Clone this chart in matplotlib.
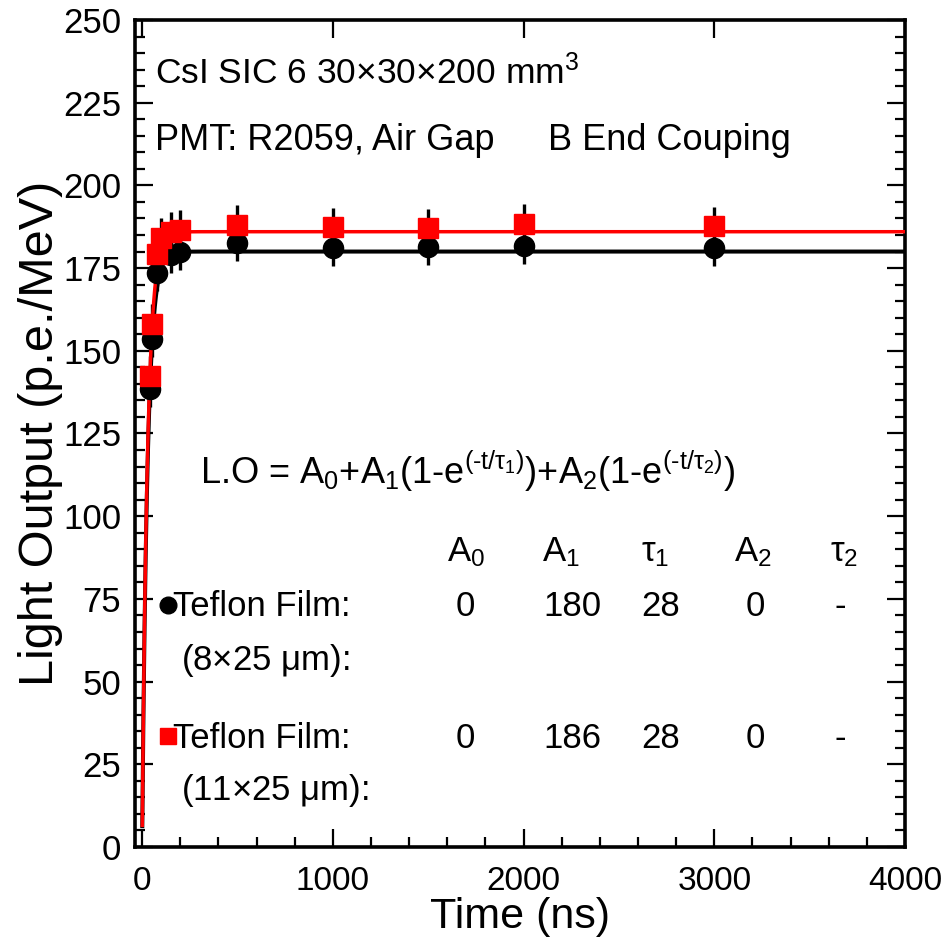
import numpy as np
import matplotlib
matplotlib.use("Agg")
import matplotlib.pyplot as plt
from matplotlib.ticker import MultipleLocator

plt.rcParams['font.family'] = ['Liberation Sans', 'DejaVu Sans']
plt.rcParams['mathtext.fontset'] = 'custom'
plt.rcParams['mathtext.rm'] = 'Liberation Sans'
plt.rcParams['mathtext.it'] = 'Liberation Sans'

# gate time (ns) and light output (p.e./MeV)
time_8 = [40, 50, 80, 150, 200, 500, 1000, 1500, 2000, 3000]
lo_8 = [138.5, 153.6, 173.5, 179.0, 180.0, 182.5, 181.2, 181.5, 181.8, 181.0]
err_8 = [5.5, 5.5, 5.5, 5.5, 5.5, 5.5, 5.5, 5.5, 5.5, 5.5]

time_11 = [40, 50, 80, 100, 150, 200, 500, 1000, 1500, 2000, 3000]
lo_11 = [142.5, 158.0, 179.4, 184.0, 186.0, 186.5, 188.0, 187.3, 187.0, 188.3, 187.6]
err_11 = [6.0, 6.0, 6.0, 6.0, 6.0, 6.0, 6.0, 6.0, 6.0, 6.0, 6.0]

# fit parameters: A0, A1, tau1, A2
fit_8 = [0, 180, 28, 0]
fit_11 = [0, 186, 28, 0]

headers = ["$A_0$", "$A_1$", r"$\tau_1$", "$A_2$", r"$\tau_2$"]
header_x = [1700, 2195, 2690, 3200, 3680]
row_8 = ["0", "180", "28", "0", "-"]
row_11 = ["0", "186", "28", "0", "-"]
value_x = [1693, 2254, 2716, 3214, 3659]


def fit_curve(t, p):
    return p[0] + p[1] * (1 - np.exp(-t / p[2])) + p[3]


fig = plt.figure(figsize=(9.53, 9.43), dpi=100)
ax = fig.add_axes([0.1417, 0.1018, 0.8080, 0.8770])

t = np.linspace(1, 4000, 4000)
ax.plot(t, fit_curve(t, fit_8), color='black', lw=2.9, zorder=2)
ax.plot(t, fit_curve(t, fit_11), color='red', lw=2.5, zorder=3)

ax.errorbar(time_8, lo_8, yerr=err_8, fmt='none', ecolor='black', elinewidth=2.4, zorder=1)
ax.errorbar(time_11, lo_11, yerr=err_11, fmt='none', ecolor='black', elinewidth=2.4, zorder=1)
ax.plot(time_8, lo_8, 'o', color='black', ms=14.5, zorder=4)
ax.plot(time_11, lo_11, 's', color='red', ms=14.5, zorder=5)

ax.set_xlim(-37, 4000)
ax.set_ylim(0, 250)
ax.xaxis.set_major_locator(MultipleLocator(1000))
ax.xaxis.set_minor_locator(MultipleLocator(200))
ax.yaxis.set_major_locator(MultipleLocator(25))
ax.yaxis.set_minor_locator(MultipleLocator(5))
ax.tick_params(which='both', direction='in', left=True, right=True, bottom=True, top=True, width=1.6)
ax.tick_params(which='major', length=13)
ax.tick_params(which='minor', length=7, top=False)
ax.tick_params(axis='y', labelsize=25, pad=10)
ax.tick_params(axis='x', labelsize=24, pad=14)
for s in ax.spines.values():
    s.set_linewidth(2.6)

ax.set_xlabel("Time (ns)", fontsize=31, labelpad=0)
ax.set_ylabel("Light Output (p.e./MeV)", fontsize=35, labelpad=0)

ax.text(68, 234, r"CsI SIC 6 30$\times$30$\times$200 mm$^3$", fontsize=25.5, va='center')
ax.text(68, 213.6, "PMT: R2059, Air Gap", fontsize=26, va='center')
ax.text(2128, 213.6, "B End Couping", fontsize=26, va='center')

ax.text(304, 109.7, r"L.O = A$_0$+A$_1$(1-e$^{(\text{-}t/\tau_1)}$)+A$_2$(1-e$^{(\text{-}t/\tau_2)}$)",
        fontsize=26, va='baseline')

for hx, h in zip(header_x, headers):
    ax.text(hx, 86.4, h, fontsize=25, ha='center', va='baseline')
for vx, a, b in zip(value_x, row_8, row_11):
    ax.text(vx, 69.7, a, fontsize=25, ha='center', va='baseline')
    ax.text(vx, 30.0, b, fontsize=25, ha='center', va='baseline')

ax.plot([136], [73.3], 'o', color='black', ms=12, clip_on=False)
ax.plot([136], [33.5], 's', color='red', ms=12, clip_on=False)
ax.text(160, 69.7, "Teflon Film:", fontsize=25, va='baseline')
ax.text(205, 53.6, r"(8$\times$25 $\mu$m):", fontsize=25, va='baseline')
ax.text(160, 30.0, "Teflon Film:", fontsize=25, va='baseline')
ax.text(205, 14.2, r"(11$\times$25 $\mu$m):", fontsize=25, va='baseline')

fig.savefig("out.png", dpi=100)
